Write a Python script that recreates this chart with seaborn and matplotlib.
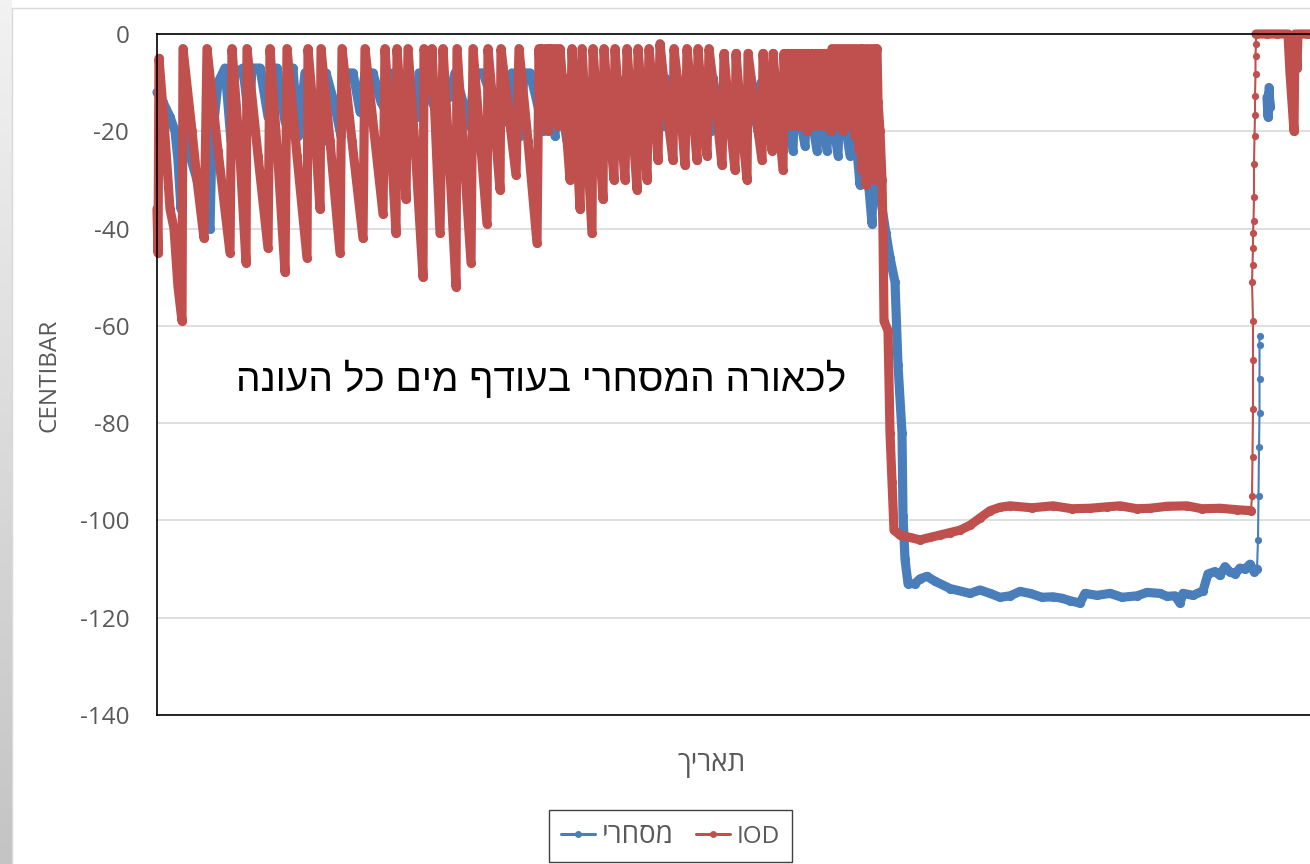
"""
Soil tension chart: commercial sensor vs IOD (centibar over the season).

Recreates an Excel style line chart with dense sawtooth series.
"""

import numpy as np
import pandas as pd
import matplotlib
matplotlib.use("Agg")
import matplotlib.pyplot as plt
import seaborn as sns
from matplotlib.lines import Line2D
from matplotlib.patches import Rectangle
from matplotlib.colors import LinearSegmentedColormap

# ---------------------------------------------------------------------------
# Data (time step index, tension in centibar)
# ---------------------------------------------------------------------------

# IOD - irrigation cycles, dry-down and flat period
red_t = [
    0, 1, 2, 7, 13, 17, 21, 25, 26, 35,
    40, 47, 50, 61, 73, 75, 83, 89, 90, 101,
    111, 113, 121, 128, 130, 140, 150, 151, 158, 163,
    164, 173, 183, 185, 195, 206, 208, 218, 226, 228,
    234, 239, 240, 245, 249, 251, 259, 266, 267, 273,
    275, 279, 283, 286, 293, 299, 300, 307, 314, 316,
    323, 330, 331, 337, 343, 344, 351, 359, 362, 371,
    380, 382, 384, 385, 388, 389, 391, 392, 394, 395,
    398, 399, 401, 403, 408, 413, 415, 419, 423, 425,
    430, 435, 436, 441, 446, 447, 452, 457, 458, 463,
    468, 470, 475, 480, 481, 486, 490, 492, 497, 501,
    503, 509, 516, 517, 523, 528, 530, 535, 540, 541,
    545, 550, 552, 559, 565, 567, 572, 578, 579, 584,
    590, 591, 598, 605, 606, 610, 615, 616, 621, 626,
    627, 630, 631, 634, 635, 638, 639, 642, 643, 646,
    647, 650, 651, 654, 655, 658, 659, 662, 663, 666,
    667, 670, 671, 674, 675, 678, 679, 682, 683, 686,
    687, 690, 691, 694, 695, 698, 699, 702, 703, 705,
    706, 709, 710, 713, 714, 717, 718, 720, 721, 723,
    725, 726, 727, 731, 733, 735, 737, 743, 753, 763,
    773, 783, 793, 803, 813, 823, 833, 843, 853, 875,
    896, 915, 933, 950, 963, 980, 993, 1010, 1030, 1045,
    1063, 1080, 1094,
]
red_v = [
    -36, -45, -5, -18, -36, -40, -52, -59, -3, -20,
    -30, -42, -3, -24, -45, -3, -25, -47, -3, -25,
    -44, -3, -26, -49, -3, -25, -46, -3, -20, -36,
    -3, -22, -45, -3, -22, -42, -3, -22, -37, -3,
    -22, -41, -3, -18, -34, -3, -26, -50, -3, -12,
    -3, -22, -41, -3, -28, -52, -3, -25, -47, -3,
    -21, -39, -3, -17, -32, -3, -15, -29, -3, -22,
    -43, -3, -12, -3, -17, -3, -20, -3, -14, -3,
    -18, -3, -19, -3, -16, -30, -3, -19, -36, -3,
    -22, -41, -3, -18, -34, -3, -17, -30, -3, -17,
    -30, -3, -17, -32, -3, -16, -30, -3, -14, -26,
    -2, -14, -26, -3, -14, -27, -3, -14, -26, -3,
    -14, -25, -3, -15, -27, -4, -16, -28, -4, -17,
    -30, -4, -15, -26, -4, -14, -24, -4, -16, -28,
    -4, -18, -4, -19, -4, -17, -4, -19, -4, -18,
    -4, -20, -4, -18, -4, -19, -4, -17, -4, -19,
    -4, -18, -4, -20, -3, -18, -3, -19, -3, -20,
    -3, -18, -3, -19, -3, -21, -3, -24, -3, -28,
    -3, -31, -3, -27, -3, -30, -3, -3, -14, -20,
    -30, -41, -59, -61, -82, -92, -102, -103, -103.5, -104,
    -103.5, -103, -102.5, -102, -101, -99.5, -98, -97.3, -97, -97.4,
    -97, -97.6, -97.5, -97.2, -97, -97.6, -97.5, -97.1, -97, -97.6,
    -97.5, -97.8, -98,
]

# IOD - fast wetting at the end of the season
red_jump_t = [1094, 1095, 1095.5, 1096, 1096, 1096, 1095, 1095.5, 1096, 1096,
              1096.5, 1097, 1097, 1097.5, 1098, 1098, 1098.5, 1098.5, 1099, 1099]
red_jump_v = [-98, -95, -87, -77, -67, -59, -51, -47.5, -44, -41,
              -38.5, -33.6, -26.8, -21, -16.6, -12.8, -8.3, -4.5, -2, 0]

red_tail_t = [1099, 1110, 1120, 1131, 1132, 1133, 1134, 1135, 1136, 1137,
              1138, 1139, 1140, 1141, 1150, 1165]
red_tail_v = [0, 0, 0, 0, -4, -8, -11, -14, -17, -20,
              0, -3, -7, 0, 0, 0]

# Commercial sensor
blue_t = [
    0, 6, 13, 18, 21, 24, 26, 33, 40, 48,
    53, 55, 61, 68, 74, 78, 86, 92, 95, 103,
    111, 120, 128, 136, 141, 148, 155, 166, 169, 177,
    184, 188, 196, 203, 208, 216, 224, 232, 236, 248,
    260, 262, 273, 284, 286, 292, 298, 306, 313, 317,
    326, 336, 346, 355, 363, 367, 373, 380, 386, 388,
    393, 398, 400, 405, 410, 412, 417, 422, 424, 429,
    434, 436, 441, 446, 448, 453, 458, 460, 465, 470,
    472, 477, 482, 484, 489, 494, 496, 501, 506, 508,
    513, 518, 520, 525, 530, 532, 537, 542, 544, 549,
    554, 556, 561, 566, 568, 573, 578, 580, 585, 590,
    592, 597, 602, 604, 609, 614, 616, 621, 626, 628,
    636, 638, 648, 650, 660, 662, 670, 672, 681, 683,
    693, 695, 703, 705, 715, 717, 723, 729, 733, 738,
    741, 745, 746, 748, 751, 758, 763, 770, 778, 793,
    813, 823, 833, 843, 853, 863, 873, 885, 896, 905,
    913, 923, 928, 940, 953, 965, 980, 990, 1003, 1010,
    1018, 1023, 1026, 1036, 1046, 1051, 1058, 1063, 1068, 1073,
    1078, 1083, 1088, 1093, 1097, 1100,
]
blue_v = [
    -12, -14, -17, -20, -26, -36, -20, -25, -30, -36,
    -40, -22, -10, -7, -22, -8, -7, -18, -7, -7,
    -17, -7, -18, -7, -21, -8, -18, -22, -8, -14,
    -21, -8, -8, -16, -8, -8, -14, -17, -8, -12,
    -17, -8, -13, -18, -8, -13, -8, -14, -19, -8,
    -8, -14, -18, -8, -21, -8, -8, -14, -20, -9,
    -15, -21, -9, -16, -22, -9, -15, -21, -9, -16,
    -21, -9, -15, -20, -9, -15, -20, -9, -15, -20,
    -9, -15, -20, -9, -16, -20, -9, -15, -19, -9,
    -15, -19, -9, -15, -19, -9, -15, -19, -9, -15,
    -20, -9, -15, -20, -9, -16, -21, -9, -16, -21,
    -10, -16, -21, -10, -17, -22, -10, -17, -24, -11,
    -24, -11, -23, -11, -24, -11, -24, -11, -25, -11,
    -25, -12, -31, -15, -39, -22, -33, -41, -46, -51,
    -68, -82, -99, -108, -113, -113, -112, -111.5, -112.5, -114,
    -115, -114.3, -115, -115.8, -115.5, -114.6, -115, -115.8, -115.7, -116,
    -116.5, -117, -115, -115.4, -115, -115.8, -115.5, -114.8, -115, -115.6,
    -115.5, -117, -115, -115.4, -114.5, -111, -110.5, -111.3, -109.5, -110.6,
    -111, -109.8, -110, -109, -110.5, -110,
]

blue_jump_t = [1100, 1101, 1101.5, 1102, 1102.5, 1102.5, 1102.5, 1102.5]
blue_jump_v = [-110, -104, -95, -85, -78, -71, -64, -62]

blue_blip_t = [1110, 1111, 1112, 1113, 1112]
blue_blip_v = [-13, -17, -12, -15, -11]

y_ticks = [0, -20, -40, -60, -80, -100, -120, -140]

BLUE = '#4A7EBB'
RED = '#C0504D'
GREY_TEXT = '#595959'

# Hebrew strings (matplotlib has no bidi, reversed for display)
LABEL_COMMERCIAL = 'מסחרי'
LABEL_IOD = 'IOD'
X_TITLE = 'תאריך'
NOTE = 'לכאורה המסחרי בעודף מים כל העונה'


def rtl(text):
    """Return visual order for a pure Hebrew string."""
    return text[::-1]


def draw_series(ax, t, v, color, thick=True):
    """Draw one segment of a series as an Excel style line with markers."""
    assert len(t) == len(v)
    df = pd.DataFrame({'t': t, 'v': v})
    sns.lineplot(data=df, x='t', y='v', ax=ax, color=color,
                 estimator=None, sort=False, errorbar=None, legend=False,
                 linewidth=6.6 if thick else 1.5,
                 marker='o', markersize=6.6 if thick else 5.2,
                 markeredgewidth=0, solid_joinstyle='round',
                 solid_capstyle='round', clip_on=False)


def plot_chart(save_path='out.png'):
    sns.set_style('white')
    plt.rcParams['font.family'] = ['Open Sans', 'Liberation Sans', 'DejaVu Sans']
    plt.rcParams['axes.unicode_minus'] = False

    W, H = 1310, 864
    fig = plt.figure(figsize=(W / 100, H / 100), dpi=100)
    fig.patch.set_facecolor('white')

    # grey slide strip on the left edge
    gax = fig.add_axes([0, 0, 12 / W, 1])
    grad = np.linspace(0, 1, 256).reshape(-1, 1)
    cmap = LinearSegmentedColormap.from_list('strip', ['#f2f2f2', '#c4c4c4'])
    gax.imshow(grad, cmap=cmap, aspect='auto', extent=[0, 1, 0, 1], origin='upper')
    gax.axis('off')

    # chart area border
    fig.add_artist(Rectangle((12 / W, -0.05), 1.1, (H - 8) / H + 0.05,
                             transform=fig.transFigure, fill=False,
                             edgecolor='#d9d9d9', linewidth=1.0))

    ax = fig.add_axes([157 / W, (H - 715) / H, 1165 / W, 681 / H])

    draw_series(ax, blue_t, blue_v, BLUE)
    draw_series(ax, blue_jump_t, blue_jump_v, BLUE, thick=False)
    draw_series(ax, blue_blip_t, blue_blip_v, BLUE)
    draw_series(ax, red_t, red_v, RED)
    draw_series(ax, red_jump_t, red_jump_v, RED, thick=False)
    draw_series(ax, red_tail_t, red_tail_v, RED)

    ax.set_xlim(0, 1165)
    ax.set_ylim(-140, 0)
    ax.set_yticks(y_ticks)
    ax.set_xticks([])
    ax.grid(axis='y', color='#d9d9d9', linewidth=1.2)
    ax.set_axisbelow(True)
    for side in ['left', 'top', 'bottom']:
        ax.spines[side].set_visible(True)
        ax.spines[side].set_color('black')
        ax.spines[side].set_linewidth(1.2)
    ax.spines['right'].set_visible(False)
    ax.tick_params(axis='y', length=0, pad=20, labelsize=17.5, labelcolor=GREY_TEXT)

    ax.set_ylabel('CENTIBAR', fontsize=17.5, color=GREY_TEXT, va='center')
    ax.yaxis.set_label_coords(-0.0927, 0.499)
    ax.set_xlabel(rtl(X_TITLE), fontsize=20, color=GREY_TEXT, va='center')
    ax.xaxis.set_label_coords((712 - 157) / 1165, -(764 - 715) / 681)

    ax.text(0.3296, 0.492, rtl(NOTE), transform=ax.transAxes,
            ha='center', va='center', fontsize=28, color='black',
            family=['Liberation Sans', 'DejaVu Sans'])

    handles = [
        Line2D([], [], color=BLUE, lw=2.2, marker='o', ms=5, mew=0),
        Line2D([], [], color=RED, lw=2.2, marker='o', ms=5, mew=0),
    ]
    leg = fig.legend(handles, [rtl(LABEL_COMMERCIAL), LABEL_IOD],
                     loc='center', bbox_to_anchor=(670.5 / W, 1 - 836 / H),
                     ncol=2, fontsize=17.5, frameon=True, fancybox=False,
                     edgecolor='#404040', framealpha=1, handlelength=1.4,
                     handletextpad=0.3, columnspacing=0.9, borderpad=0.5)
    leg.get_frame().set_linewidth(1.0)
    texts = leg.get_texts()
    texts[0].set_fontsize(20)
    for txt in texts:
        txt.set_color(GREY_TEXT)

    fig.savefig(save_path, dpi=100)
    plt.close(fig)


if __name__ == "__main__":
    plot_chart()
